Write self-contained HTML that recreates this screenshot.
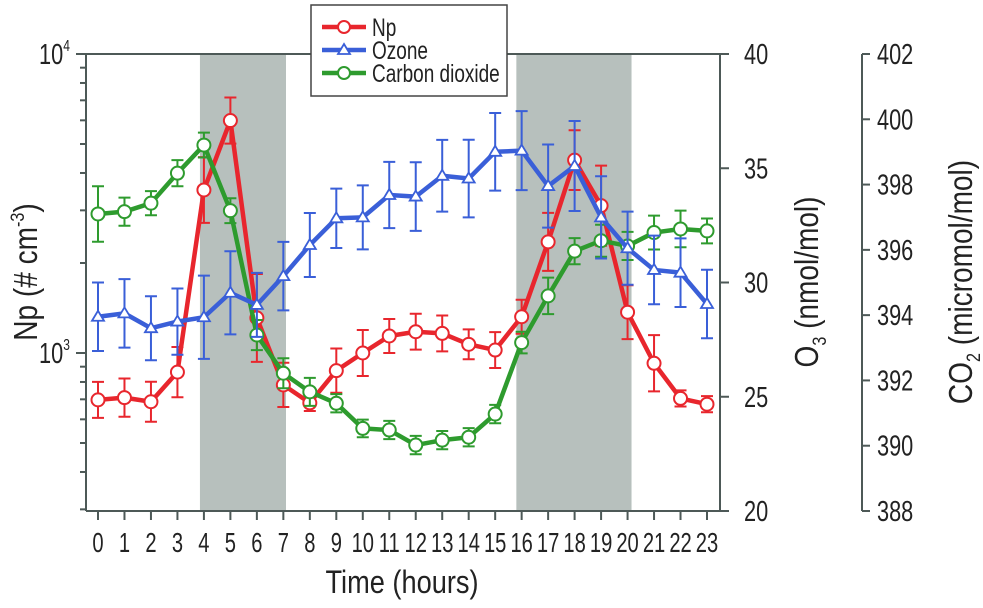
<!DOCTYPE html>
<html><head><meta charset="utf-8"><style>
body{margin:0;background:#fff;}
svg{display:block;}
text{font-family:"Liberation Sans Narrow","Liberation Sans",sans-serif;fill:#222;}
</style></head><body>
<svg id="chart" width="983" height="608" viewBox="0 0 983 608" xmlns="http://www.w3.org/2000/svg"></svg>
<script>
const hours=[0,1,2,3,4,5,6,7,8,9,10,11,12,13,14,15,16,17,18,19,20,21,22,23];
const npVals=[697,709,687,863,3510,5990,1310,782,681,873,1000,1140,1178,1163,1069,1023,1322,2353,4416,3110,1369,924,705,674];
const npErrLog=[0.06,0.064,0.067,0.084,0.11,0.077,0.147,0.074,0.027,0.074,0.077,0.057,0.06,0.06,0.05,0.06,0.057,0.097,0.1,0.134,0.09,0.094,0.027,0.027];
const o3Vals=[28.5,28.65,28.0,28.29,28.48,29.55,29.02,30.28,31.64,32.81,32.85,33.83,33.76,34.67,34.55,35.72,35.77,34.22,35.1,32.85,31.5,30.55,30.43,29.06];
const o3Err=[1.5,1.5,1.4,1.45,1.82,1.82,1.4,1.5,1.4,1.3,1.4,1.45,1.5,1.57,1.7,1.7,1.73,1.82,1.97,1.8,1.6,1.5,1.5,1.5];
const co2Vals=[397.1,397.17,397.43,398.35,399.21,397.2,393.39,392.22,391.65,391.3,390.53,390.48,390.02,390.17,390.26,390.97,393.16,394.59,395.96,396.28,396.12,396.53,396.64,396.58];
const co2Err=[0.85,0.43,0.37,0.4,0.38,0.38,0.46,0.46,0.43,0.28,0.27,0.28,0.28,0.28,0.28,0.28,0.33,0.56,0.4,0.49,0.43,0.52,0.56,0.38];
const shadeRanges=[[3.85,7.1],[15.8,20.15]];
const o3Ticks=[20,25,30,35,40];
const co2Ticks=[388,390,392,394,396,398,400,402];

const svg=document.getElementById('chart');
const NS='http://www.w3.org/2000/svg';
const L=86,R=720,T=54,B=511;
const X=h=>98+h*(707-98)/23;
const logMin=3-(B-353)/299, logMax=4;
const yNp=v=>B-(Math.log10(v)-logMin)/(logMax-logMin)*(B-T);
const yO3=v=>B-(v-20)/20*(B-T);
const yCO2=v=>B-(v-388)/14*(B-T);
function el(tag,attrs,parent){const e=document.createElementNS(NS,tag);for(const k in attrs)e.setAttribute(k,attrs[k]);(parent||svg).appendChild(e);return e;}
function txt(parent,x,y,html,size,sx,anchor,rot){
  const g=el('g',{transform:`translate(${x},${y})`+(rot?` rotate(${rot})`:'')+` scale(${sx},1)`},parent);
  const t=el('text',{x:0,y:0,'font-size':size,'text-anchor':anchor||'start'},g);
  t.innerHTML=html;return t;
}

shadeRanges.forEach((r,i)=>{
  const s=el('rect',{x:X(r[0]),y:T,width:X(r[1])-X(r[0]),height:B-T,fill:'#b7c0bd'});
  
  
});
const fr=el('path',{d:`M${L},${B}L${L},${T}L${R},${T}L${R},${B}L${L},${B}`,fill:'none',stroke:'#4d5957','stroke-width':2});



const lt=el('g',{stroke:'#4d5957','stroke-width':2});


for(let d=2;d<=4;d++){for(let m=1;m<10;m++){const v=m*Math.pow(10,d);if(Math.log10(v)<logMin||Math.log10(v)>logMax+1e-9)continue;const y=yNp(v);el('line',{x1:L-(m==1?10:6),x2:L,y1:y,y2:y},lt);}}
[3,4].forEach(p=>{
  const t=txt(svg,39,yNp(Math.pow(10,p))+10,'10<tspan font-size="16" dy="-13">'+p+'</tspan>',29,0.75,'start');
  
  
});
hours.forEach(h=>{
  el('line',{x1:X(h),x2:X(h),y1:B,y2:B+9,stroke:'#4d5957','stroke-width':2});
  const t=txt(svg,X(h),B+41,String(h),28,0.72,'middle');
  
  
});
o3Ticks.forEach(v=>{
  el('line',{x1:R,x2:R+9,y1:yO3(v),y2:yO3(v),stroke:'#4d5957','stroke-width':2});
  const t=txt(svg,744,yO3(v)+10,String(v),29,0.75,'start');
  
  
});
const CX=862;
el('line',{x1:CX,x2:CX,y1:T,y2:B,stroke:'#4d5957','stroke-width':2});
co2Ticks.forEach(v=>{
  el('line',{x1:CX,x2:CX+8,y1:yCO2(v),y2:yCO2(v),stroke:'#4d5957','stroke-width':2});
  const t=txt(svg,877,yCO2(v)+10,String(v),29,0.75,'start');
  
  
});

let t=txt(svg,402,593,'Time (hours)',32,0.85,'middle');


t=txt(svg,37,272,'Np (# cm<tspan font-size="19" dy="-13">-3</tspan><tspan dy="13">)</tspan>',33,0.85,'middle',-90);


t=txt(svg,818,282,'O<tspan font-size="19" dy="8">3</tspan><tspan dy="-8"> (nmol/mol)</tspan>',33,0.85,'middle',-90);


t=txt(svg,972,282,'CO<tspan font-size="19" dy="8">2</tspan><tspan dy="-8"> (micromol/mol)</tspan>',33,0.85,'middle',-90);



function series(name,color,ys,lo,hi,marker){
  const g=el('g',{});
  
  
  hours.forEach((h,i)=>{
    const x=X(h),y1=lo[i],y2=hi[i];
    el('path',{d:`M${x},${y1}L${x},${y2}M${x-6},${y1}L${x+6},${y1}M${x-6},${y2}L${x+6},${y2}`,stroke:color,'stroke-width':2,fill:'none'},g);
  });
  el('polyline',{points:hours.map((h,i)=>X(h)+','+ys[i]).join(' '),fill:'none',stroke:color,'stroke-width':4.5,'stroke-linejoin':'round'},g);
  hours.forEach((h,i)=>{
    let m;
    if(marker==='tri'){const x=X(h),y=ys[i];m=el('path',{d:`M${x},${y-6}L${x+6},${y+4}L${x-6},${y+4}Z`,fill:'#fff',stroke:color,'stroke-width':1.8},g);}
    else m=el('circle',{cx:X(h),cy:ys[i],r:6.5,fill:'#fff',stroke:color,'stroke-width':2},g);
    
    
  });
}
series('np','#e8262d',npVals.map(yNp),npVals.map((v,i)=>yNp(v*Math.pow(10,-npErrLog[i]))),npVals.map((v,i)=>yNp(v*Math.pow(10,npErrLog[i]))),'circle');
series('co2','#2e9b2e',co2Vals.map(yCO2),co2Vals.map((v,i)=>yCO2(v-co2Err[i])),co2Vals.map((v,i)=>yCO2(v+co2Err[i])),'circle');
series('ozone','#3a5fd8',o3Vals.map(yO3),o3Vals.map((v,i)=>yO3(v-o3Err[i])),o3Vals.map((v,i)=>yO3(v+o3Err[i])),'tri');

const lg=el('g',{});


el('rect',{x:311,y:5,width:196,height:91,fill:'#fff',stroke:'#444','stroke-width':1.5},lg);
[['Np','#e8262d','c'],['Ozone','#3a5fd8','t'],['Carbon dioxide','#2e9b2e','c']].forEach((e,i)=>{
  const y=27+i*23;
  const g=el('g',{},lg);
  
  
  el('line',{x1:322,x2:366,y1:y,y2:y,stroke:e[1],'stroke-width':4.5},g);
  if(e[2]==='t')el('path',{d:`M344,${y-6}L350,${y+4}L338,${y+4}Z`,fill:'#fff',stroke:e[1],'stroke-width':1.8},g);
  else el('circle',{cx:344,cy:y,r:6,fill:'#fff',stroke:e[1],'stroke-width':2},g);
  txt(g,372,y+9,e[0],25,0.76,'start');
});
</script>
</body></html>
